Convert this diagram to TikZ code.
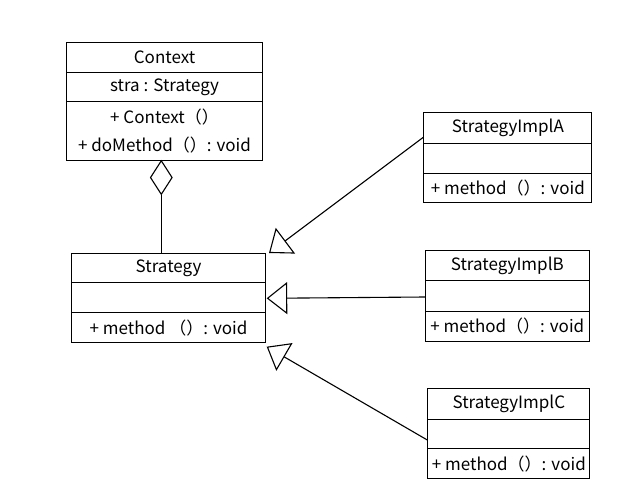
\documentclass[tikz,border=0pt]{standalone}
\usepackage{fontspec}
\setmainfont{Noto Sans CJK SC}
\usetikzlibrary{arrows.meta,shapes.geometric}
\begin{document}
\begin{tikzpicture}[x=1pt,y=-1pt,line width=1.1pt,
  row/.style={draw,rectangle,anchor=north west,inner sep=0pt,align=center,
    font=\fontsize{17}{28.3}\selectfont},
  inh/.style={-{Triangle[open,length=20.5pt,width=32pt]}}]
\useasboundingbox (0,0) rectangle (642,489);
% Context
\node[row,minimum width=196,minimum height=30] (cT) at (66,41.7) {Context};
\node[row,minimum width=196,minimum height=29.3] (cA) at (66,71.7) {stra : Strategy};
\node[row,minimum width=196,minimum height=59] (cM) at (66,101) {+ Context（）\\+ doMethod（）: void};
% Strategy
\node[row,minimum width=194.6,minimum height=29.8] (sT) at (70.7,252.5) {Strategy};
\node[row,minimum width=194.6,minimum height=30] (sA) at (70.7,282.3) {};
\node[row,minimum width=194.6,minimum height=29.4] (sM) at (70.7,312.3) {+ method （）: void};
% A
\node[row,minimum width=168,minimum height=30.4] (aT) at (423.3,112.3) {StrategyImplA};
\node[row,minimum width=168,minimum height=30] (aA) at (423.3,142.7) {};
\node[row,minimum width=168,minimum height=29.6] (aM) at (423.3,172.7) {+ method（）: void};
% B
\node[row,minimum width=163.5,minimum height=30] (bT) at (425,250) {StrategyImplB};
\node[row,minimum width=163.5,minimum height=30.7] (bA) at (425,280) {};
\node[row,minimum width=163.5,minimum height=30] (bM) at (425,310.7) {+ method（）: void};
% C
\node[row,minimum width=162,minimum height=30.7] (xT) at (427.3,388.3) {StrategyImplC};
\node[row,minimum width=162,minimum height=29.3] (xA) at (427.3,419) {};
\node[row,minimum width=162,minimum height=29.4] (xM) at (427.3,448.3) {+ method（）: void};
% aggregation
\node[draw,diamond,minimum width=22,minimum height=34,inner sep=0pt,anchor=north] (dia) at (161.3,160) {};
\draw (dia.south) -- (dia.south |- sT.north);
% inheritance
\coordinate (aIn) at (423.3,137.3);
\coordinate (bIn) at (425,297);
\coordinate (xIn) at (427.3,440);
\coordinate (tipA) at (269,253);
\coordinate (tipB) at (266.7,298.3);
\coordinate (tipC) at (266.7,346.7);
\draw[inh] (aIn) -- (tipA);
\draw[inh] (bIn) -- (tipB);
\draw[inh] (xIn) -- (tipC);
\end{tikzpicture}
\end{document}
